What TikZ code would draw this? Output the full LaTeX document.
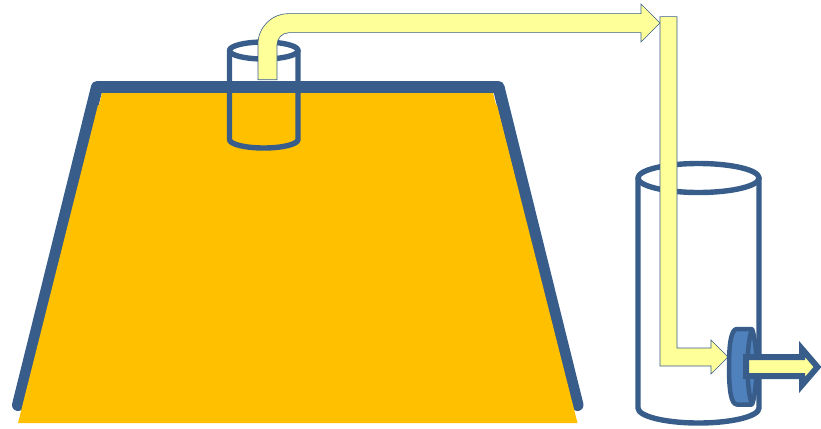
\documentclass[tikz,border=0pt]{standalone}
\definecolor{pipeblue}{HTML}{385D8A}
\definecolor{tankfill}{HTML}{FFC000}
\definecolor{pipefill}{HTML}{FFFF99}
\definecolor{discfill}{HTML}{4F81BD}
\tikzset{
  wall/.style={draw=pipeblue,line width=5.4pt,line join=round,line cap=round},
  pipe/.style={draw=pipeblue,fill=pipefill,line width=0.6pt,line join=miter},
}
\begin{document}
\begin{tikzpicture}[x=1pt,y=-1pt]
\useasboundingbox (0,0) rectangle (821,428);
% tank
\draw[draw=pipeblue,line width=12pt,line join=round,line cap=round] (18,405) -- (97,87) -- (498.5,87) -- (577.5,405);
\fill[tankfill] (18,423) -- (98,105) -- (99,105) -- (102,93) -- (493,93) -- (496,105) -- (497,105) -- (577.5,423) -- cycle;
% small cylinder
\draw[wall] (229.5,50.5) -- (229.5,139.5) .. controls (229.5,144.2) and (244.8,148) .. (263.75,148) .. controls (282.7,148) and (298,144.2) .. (298,139.5) -- (298,50.5);
\draw[wall] (263.75,50.5) ellipse[x radius=34.25,y radius=8.5];
% bent arrow
\draw[pipe] (258,79.7) -- (258,44) .. controls (258,27.3) and (271.6,13.7) .. (288.3,13.7) -- (641,13.7) -- (641,4) -- (660,23) -- (641,42) -- (641,32.7) -- (289,32.7) .. controls (282.4,32.7) and (277,38.1) .. (277,44.7) -- (277,79.7) -- cycle;
% large cylinder
\draw[wall] (638,178) -- (638,408) .. controls (638,416.3) and (665,423) .. (698.5,423) .. controls (732,423) and (759,416.3) .. (759,408) -- (759,178);
\draw[wall] (698.5,178) ellipse[x radius=60.5,y radius=14.5];
% L arrow
\draw[pipe] (660,16.7) -- (677,16.7) -- (677,348) -- (711,348) -- (711,340) -- (728,357) -- (711,374) -- (711,366) -- (660,366) -- cycle;
% disc
\draw[draw=pipeblue,fill=discfill,line width=4.5pt,line join=round] (737,329) -- (752,329) .. controls (758,345) and (758,389) .. (752,404.5) -- (737,404.5) .. controls (731,404.5) and (729,390) .. (729,367) .. controls (729,344) and (731,329) .. (737,329) -- cycle;
\draw[draw=pipeblue,line width=4.5pt] (752,329) .. controls (746,345) and (746,389) .. (752,404.5);
% outlet arrow
\draw[draw=pipeblue,fill=pipefill,line width=6pt,line join=miter] (746,357) -- (802,357) -- (802,349) -- (817.5,367) -- (802,385) -- (802,376) -- (746,376) -- cycle;
\end{tikzpicture}
\end{document}
